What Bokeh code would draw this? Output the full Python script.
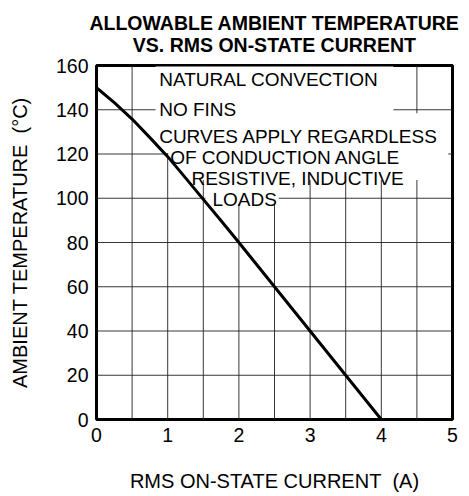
from bokeh.plotting import figure
from bokeh.models import FixedTicker, Range1d, ColumnDataSource
from bokeh.core.properties import value
from bokeh.embed import file_html
from bokeh.resources import INLINE

# ---- data ----
current_a = [0.0, 0.25, 0.5, 0.75, 1.0, 1.25, 1.5, 1.75, 2.0, 2.5, 3.0, 3.5, 4.0]
ambient_c = [150, 143.2, 135.8, 127.4, 118.8, 109.2, 99.5, 89.8, 80, 60, 40, 20, 0]

x_ticks = [0, 1, 2, 3, 4, 5]
y_ticks = [0, 20, 40, 60, 80, 100, 120, 140, 160]
x_grid_ticks = [0.5, 1, 1.5, 2, 2.5, 3, 3.5, 4, 4.5]
y_grid_ticks = [20, 40, 60, 80, 100, 120, 140]

title_lines = ["ALLOWABLE AMBIENT TEMPERATURE", "VS. RMS ON-STATE CURRENT"]

note_lines = ["NATURAL CONVECTION", "NO FINS", "CURVES APPLY REGARDLESS",
              "OF CONDUCTION ANGLE", "RESISTIVE, INDUCTIVE", "LOADS"]
note_x = [0.88, 0.88, 0.88, 1.035, 1.334, 1.629]
note_y = [153.7, 140.2, 128.1, 118.6, 109.1, 99.6]

# white boxes behind the note (they hide the grid lines there)
mask_left = [0.83, 0.83, 1.01, 1.32, 1.53]
mask_right = [4.17, 4.94, 4.94, 4.95, 2.56]
mask_top = [159.5, 138.4, 120.4, 116.8, 108.3]
mask_bottom = [138.0, 120.4, 116.8, 108.3, 97.5]

FONT = "Liberation Sans"
X0, X1 = 0, 5
Y0, Y1 = 0, 160

p = figure(width=469, height=496, output_backend="svg", toolbar_location=None,
           x_range=Range1d(X0, X1), y_range=Range1d(Y0, Y1),
           min_border_left=96, min_border_right=17, min_border_top=64,
           min_border_bottom=77)

# multi-line title: second line padded with no-break spaces so it sits centred
p.title.text = title_lines[0] + "\n" + "\u00a0" * 8 + title_lines[1]
p.title.align = "center"
p.title.text_font = FONT
p.title.text_font_size = "19.5px"
p.title.text_font_style = "bold"
p.title.text_color = "black"
p.title.text_line_height = 1.03
p.title.standoff = 18

p.outline_line_color = "black"
p.outline_line_width = 3
p.outline_line_alpha = 1

p.xaxis.ticker = FixedTicker(ticks=x_ticks)
p.yaxis.ticker = FixedTicker(ticks=y_ticks)
p.xgrid.visible = False
p.ygrid.visible = False

for ax in (p.xaxis, p.yaxis):
    ax.axis_line_color = None
    ax.major_tick_line_color = None
    ax.minor_tick_line_color = None
    ax.major_tick_out = 0
    ax.major_tick_in = 0
    ax.major_label_standoff = 8
    ax.major_label_text_font = FONT
    ax.major_label_text_font_size = "19.5px"
    ax.major_label_text_color = "black"
    ax.axis_label_text_font = FONT
    ax.axis_label_text_font_size = "20px"
    ax.axis_label_text_font_style = "normal"
    ax.axis_label_text_color = "black"

p.xaxis.axis_label_standoff = 25
p.yaxis.axis_label_standoff = 22
p.xaxis.axis_label = "RMS ON-STATE CURRENT\u00a0 (A)"
p.yaxis.axis_label = "AMBIENT TEMPERATURE\u00a0 (°C)"

# grid lines
p.segment(x0=x_grid_ticks, y0=[Y0] * len(x_grid_ticks),
          x1=x_grid_ticks, y1=[Y1] * len(x_grid_ticks),
          line_color="#222222", line_width=1, line_alpha=0.9)
p.segment(x0=[X0] * len(y_grid_ticks), y0=y_grid_ticks,
          x1=[X1] * len(y_grid_ticks), y1=y_grid_ticks,
          line_color="#222222", line_width=1, line_alpha=0.9)

mask_src = ColumnDataSource(dict(left=mask_left, right=mask_right,
                                 top=mask_top, bottom=mask_bottom))
p.quad(left="left", right="right", top="top", bottom="bottom", source=mask_src,
       fill_color="white", line_color=None)

note_src = ColumnDataSource(dict(x=note_x, y=note_y, text=note_lines))
p.text(x="x", y="y", text="text", source=note_src,
       text_font=value(FONT), text_font_size=value("19px"),
       text_align="left", text_baseline="alphabetic", text_color="black")

p.line(current_a, ambient_c, line_color="black", line_width=3)

open("out.html", "w").write(file_html(p, INLINE))
